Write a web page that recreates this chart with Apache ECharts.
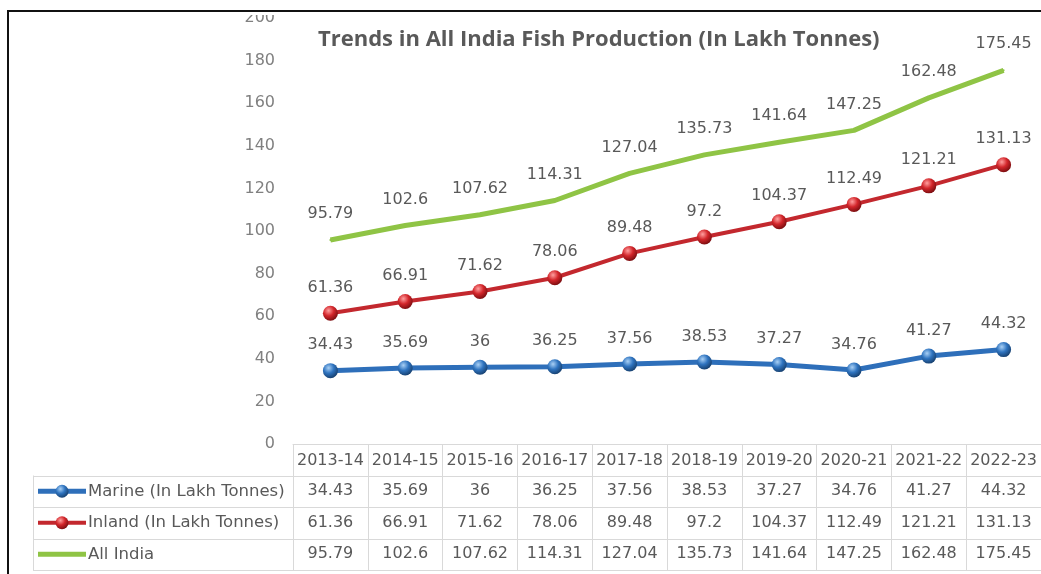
<!DOCTYPE html>
<html>
<head>
<meta charset="utf-8">
<script src="https://cdn.jsdelivr.net/npm/echarts@6/dist/echarts.min.js"></script>
<style>
html, body { margin: 0; padding: 0; background: #fff; }
#main { width: 1041px; height: 574px; }
</style>
</head>
<body>
<div id="main"></div>
<script>
// data
var years = ['2013-14', '2014-15', '2015-16', '2016-17', '2017-18', '2018-19', '2019-20', '2020-21', '2021-22', '2022-23'];
var marine = [34.43, 35.69, 36, 36.25, 37.56, 38.53, 37.27, 34.76, 41.27, 44.32];
var inland = [61.36, 66.91, 71.62, 78.06, 89.48, 97.2, 104.37, 112.49, 121.21, 131.13];
var allIndia = [95.79, 102.6, 107.62, 114.31, 127.04, 135.73, 141.64, 147.25, 162.48, 175.45];
var seriesNames = ['Marine (In Lakh Tonnes)', 'Inland (In Lakh Tonnes)', 'All India'];
var yMin = 0, yMax = 200, yStep = 20;

var font = 'DejaVu Sans';
var textGray = '#595959';
var gridLine = '#d9d9d9';
var blue = '#2e6fba', red = '#c3282e', green = '#8fc445';

function ball(light, mid, dark) {
	return {
		type: 'radial', x: 0.38, y: 0.32, r: 0.7,
		colorStops: [
			{ offset: 0, color: light },
			{ offset: 0.5, color: mid },
			{ offset: 1, color: dark }
		]
	};
}
var blueBall = ball('#a9d0f5', '#2f74c0', '#17406f');
var redBall = ball('#ff9f9f', '#d3262b', '#7a0d10');

var myChart = echarts.init(document.getElementById('main'));

function labelStyle(dist) {
	return { show: true, position: 'top', distance: dist, color: textGray, fontSize: 16, fontFamily: font };
}

option = {
	animation: false,
	title: {
		text: 'Trends in All India Fish Production (In Lakh Tonnes)',
		left: 318,
		top: 29,
		padding: 0,
		textStyle: { fontFamily: 'Open Sans', fontWeight: 'bold', fontSize: 22, color: textGray }
	},
	grid: { left: 293, right: 0, top: 18, bottom: 130 },
	xAxis: {
		type: 'category',
		data: years,
		axisLine: { lineStyle: { color: gridLine, width: 1 } },
		axisTick: { show: true, interval: 0, length: 126, lineStyle: { color: gridLine } },
		axisLabel: { interval: 0, margin: 9, color: textGray, fontSize: 16, fontFamily: font }
	},
	yAxis: {
		type: 'value',
		min: yMin,
		max: yMax,
		interval: yStep,
		axisLine: { show: false },
		axisTick: { show: false },
		splitLine: { show: false },
		axisLabel: { margin: 18, color: '#808080', fontSize: 16, fontFamily: font }
	},
	series: [{
		name: seriesNames[0],
		type: 'line',
		data: marine,
		symbol: 'circle',
		symbolSize: 15,
		lineStyle: { width: 5, color: blue },
		itemStyle: { color: blueBall },
		label: labelStyle(10),
		z: 3
	}, {
		name: seriesNames[1],
		type: 'line',
		data: inland,
		symbol: 'circle',
		symbolSize: 15,
		lineStyle: { width: 4, color: red },
		itemStyle: { color: redBall },
		label: labelStyle(10),
		z: 3
	}, {
		name: seriesNames[2],
		type: 'line',
		data: allIndia,
		symbol: 'circle',
		symbolSize: 2,
		lineStyle: { width: 5, color: green },
		itemStyle: { color: green },
		label: labelStyle(17),
		z: 2
	}]
};
myChart.setOption(option);

// data table under the plot, laid out on the category axis
var xs = years.map(function (y) { return myChart.convertToPixel({ xAxisIndex: 0 }, y); });
var axisY = myChart.convertToPixel({ yAxisIndex: 0 }, 0);
var rowH = 31.5;
var tableLeft = 33, tableRight = 1041;
var rows = [marine, inland, allIndia];
var keys = [{ line: blue, ball: blueBall, w: 5 }, { line: red, ball: redBall, w: 4 }, { line: green, ball: null, w: 5 }];
var graphics = [];

for (var r = 1; r <= 4; r++) {
	var yy = Math.round(axisY + rowH * r) + 0.5;
	graphics.push({ type: 'line', shape: { x1: tableLeft, y1: yy, x2: tableRight, y2: yy }, style: { stroke: gridLine, lineWidth: 1 }, silent: true });
}
graphics.push({ type: 'line', shape: { x1: tableLeft + 0.5, y1: axisY + rowH, x2: tableLeft + 0.5, y2: axisY + rowH * 4 }, style: { stroke: gridLine, lineWidth: 1 }, silent: true });

rows.forEach(function (vals, r) {
	var cy = axisY + rowH * (r + 1.5);
	vals.forEach(function (v, i) {
		graphics.push({ type: 'text', x: xs[i], y: cy, style: { text: String(v), textAlign: 'center', textVerticalAlign: 'middle', fill: textGray, font: '16px "' + font + '"' }, silent: true });
	});
	var k = keys[r];
	graphics.push({ type: 'line', shape: { x1: 38, y1: cy, x2: 86, y2: cy }, style: { stroke: k.line, lineWidth: k.w }, silent: true });
	if (k.ball) {
		graphics.push({ type: 'circle', shape: { cx: 62, cy: cy, r: 6.5 }, style: { fill: k.ball }, silent: true });
	}
	graphics.push({ type: 'text', x: 88, y: cy, style: { text: seriesNames[r], textAlign: 'left', textVerticalAlign: 'middle', fill: textGray, font: '16.5px "' + font + '"' }, silent: true });
});

// outer frame (top-left corner of a cropped picture)
graphics.push({ type: 'rect', shape: { x: 0, y: 0, width: 1041, height: 15 }, style: { fill: '#fff' }, z: 100, silent: true });
graphics.push({ type: 'rect', shape: { x: 0, y: 0, width: 7, height: 574 }, style: { fill: '#fff' }, z: 100, silent: true });
graphics.push({ type: 'line', shape: { x1: 7, y1: 11, x2: 1041, y2: 11 }, style: { stroke: '#111', lineWidth: 2 }, z: 101, silent: true });
graphics.push({ type: 'line', shape: { x1: 8, y1: 10, x2: 8, y2: 574 }, style: { stroke: '#111', lineWidth: 2 }, z: 101, silent: true });

myChart.setOption({ graphic: graphics });
</script>
</body>
</html>
